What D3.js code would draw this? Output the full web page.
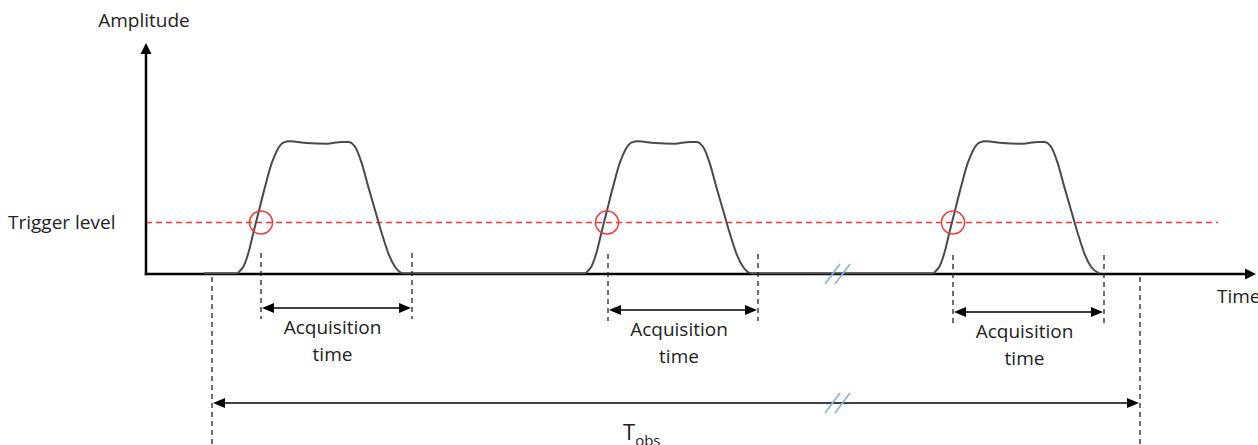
<!DOCTYPE html>
<html><head><meta charset="utf-8">
<script src="https://cdn.jsdelivr.net/npm/d3@7"></script>
<style>html,body{margin:0;padding:0;background:#fff;overflow:hidden}svg{display:block}</style>
</head><body><svg id="chart" width="1258" height="445"></svg>
<script>
// ---------------- data ----------------
const axisLabels = ["Amplitude", "Time"];
const triggerLabel = "Trigger level";
const acqLabelLines = ["Acquisition", "time"];
const obsLabel = ["T", "obs"];
const triggerLevel = 0.39;                 // amplitude of trigger line
const timeMax = 1110, ampMax = 1.75;       // axis extents
const traceStart = 58;                     // time where the trace starts
const pulseStarts = [91, 439, 787];        // time each pulse begins to rise
// one pulse shape: time offset from pulse start, amplitude
const shapeT = [0, 3, 6.3, 11.3, 16.3, 21.3, 28, 34.7, 40.3, 46.3, 53, 69.7, 89.7, 104.7, 111.3, 118, 124.7, 131.3, 138, 144.7, 151.3, 158, 166.3];
const shapeA = [0.005, 0.025, 0.055, 0.157, 0.31, 0.46, 0.66, 0.84, 0.94, 0.995, 1.005, 0.992, 0.987, 1.0, 1.0, 0.964, 0.84, 0.66, 0.485, 0.31, 0.157, 0.055, 0.005];
const triggerTimes = [115, 461, 807];      // trigger crossing (circles)
const acqStart = [115, 462, 807];          // acquisition windows
const acqEnd = [266, 612, 958];
const obsStart = 66, obsEnd = 994;         // observation time window
const breakTime = 692;                     // axis break position
const triggerLineEnd = 1072;

// ---------------- layout ----------------
const svg = d3.select("#chart");
const x = d3.scaleLinear().domain([0, timeMax]).range([146, 1256]);
const y = d3.scaleLinear().domain([0, ampMax]).range([274, 43]);
const FONT = "'Open Sans', sans-serif";
const TXT = "#222";

function arrowHead(g, tipX, tipY, dir, len, half, color) {
  let pts;
  if (dir === "up") pts = [[tipX, tipY], [tipX - half, tipY + len], [tipX + half, tipY + len]];
  else if (dir === "right") pts = [[tipX, tipY], [tipX - len, tipY - half], [tipX - len, tipY + half]];
  else pts = [[tipX, tipY], [tipX + len, tipY - half], [tipX + len, tipY + half]];
  g.append("path").attr("d", d3.line()(pts) + "Z").attr("fill", color);
}

// trigger dashed line
svg.append("line")
  .attr("x1", x(0)).attr("x2", x(triggerLineEnd))
  .attr("y1", y(triggerLevel)).attr("y2", y(triggerLevel))
  .attr("stroke", "#f03a3a").attr("stroke-width", 1.3).attr("stroke-dasharray", "6,4");

// axes
const axG = svg.append("g");
axG.append("line").attr("x1", x(0)).attr("x2", x(0)).attr("y1", y(0) + 1.2).attr("y2", y(ampMax) + 9)
  .attr("stroke", "#000").attr("stroke-width", 2.5);
arrowHead(axG, x(0), y(ampMax), "up", 11, 5.5, "#000");
axG.append("line").attr("x1", x(0) - 1.2).attr("x2", x(timeMax) - 9).attr("y1", y(0)).attr("y2", y(0))
  .attr("stroke", "#000").attr("stroke-width", 2.5);
arrowHead(axG, x(timeMax), y(0), "right", 11, 5.5, "#000");

// pulse trace
const tracePts = [[traceStart, 0.005]];
pulseStarts.forEach(s => shapeT.forEach((t, i) => tracePts.push([s + t, shapeA[i]])));
svg.append("path")
  .attr("d", d3.line().x(d => x(d[0])).y(d => y(d[1])).curve(d3.curveMonotoneX)(tracePts))
  .attr("fill", "none").attr("stroke", "#4a4a4a").attr("stroke-width", 2);

// trigger circles
svg.selectAll("circle.trig").data(triggerTimes).join("circle")
  .attr("class", "trig").attr("cx", d => x(d)).attr("cy", y(triggerLevel)).attr("r", 11.5)
  .attr("fill", "none").attr("stroke", "#f03a3a").attr("stroke-width", 1.5);

// acquisition annotations
const rowShift = [0, 2, 4];
acqStart.forEach((s, i) => {
  const g = svg.append("g");
  const x1 = x(s), x2 = x(acqEnd[i]);
  const ay = 308 + rowShift[i];
  [x1, x2].forEach(xx => g.append("line").attr("x1", xx).attr("x2", xx)
    .attr("y1", 253 + rowShift[i] / 2).attr("y2", 319 + rowShift[i])
    .attr("stroke", "#222").attr("stroke-width", 1.3).attr("stroke-dasharray", "5,4"));
  g.append("line").attr("x1", x1 + 6).attr("x2", x2 - 6).attr("y1", ay).attr("y2", ay)
    .attr("stroke", "#000").attr("stroke-width", 1.6);
  arrowHead(g, x1 + 1, ay, "left", 12, 5, "#000");
  arrowHead(g, x2 - 1, ay, "right", 12, 5, "#000");
  const cx = (x1 + x2) / 2 - 4;
  acqLabelLines.forEach((ln, j) => g.append("text")
    .attr("x", cx).attr("y", 334 + rowShift[i] + j * 27)
    .attr("text-anchor", "middle").attr("font-family", FONT).attr("font-size", 19)
    .attr("fill", TXT).text(ln));
});

// observation window
const og = svg.append("g");
[obsStart, obsEnd].forEach(t => og.append("line").attr("x1", x(t)).attr("x2", x(t))
  .attr("y1", 277).attr("y2", 445)
  .attr("stroke", "#222").attr("stroke-width", 1.3).attr("stroke-dasharray", "5,4"));
og.append("line").attr("x1", x(obsStart) + 6).attr("x2", x(obsEnd) - 6).attr("y1", 403).attr("y2", 403)
  .attr("stroke", "#000").attr("stroke-width", 1.6);
arrowHead(og, x(obsStart) + 1, 403, "left", 12, 5, "#000");
arrowHead(og, x(obsEnd) - 1, 403, "right", 12, 5, "#000");
const tobs = og.append("text").attr("x", 623).attr("y", 440).attr("font-family", FONT).attr("fill", TXT);
tobs.append("tspan").attr("font-size", 22).text(obsLabel[0]);
tobs.append("tspan").attr("font-size", 15).attr("dy", 6).text(obsLabel[1]);

// axis breaks
[y(0), 403].forEach(by => {
  [0, 10].forEach(off => svg.append("line")
    .attr("x1", x(breakTime) - 13 + off).attr("y1", by + 10)
    .attr("x2", x(breakTime) + 2 + off).attr("y2", by - 10)
    .attr("stroke", "#86aee0").attr("stroke-width", 1.6));
});

// labels
svg.append("text").attr("x", 144).attr("y", 27).attr("text-anchor", "middle")
  .attr("font-family", FONT).attr("font-size", 19).attr("fill", TXT).text(axisLabels[0]);
svg.append("text").attr("x", 1217).attr("y", 303)
  .attr("font-family", FONT).attr("font-size", 19).attr("fill", TXT).text(axisLabels[1]);
svg.append("text").attr("x", 8).attr("y", 229)
  .attr("font-family", FONT).attr("font-size", 19).attr("fill", TXT).text(triggerLabel);
</script></body></html>
